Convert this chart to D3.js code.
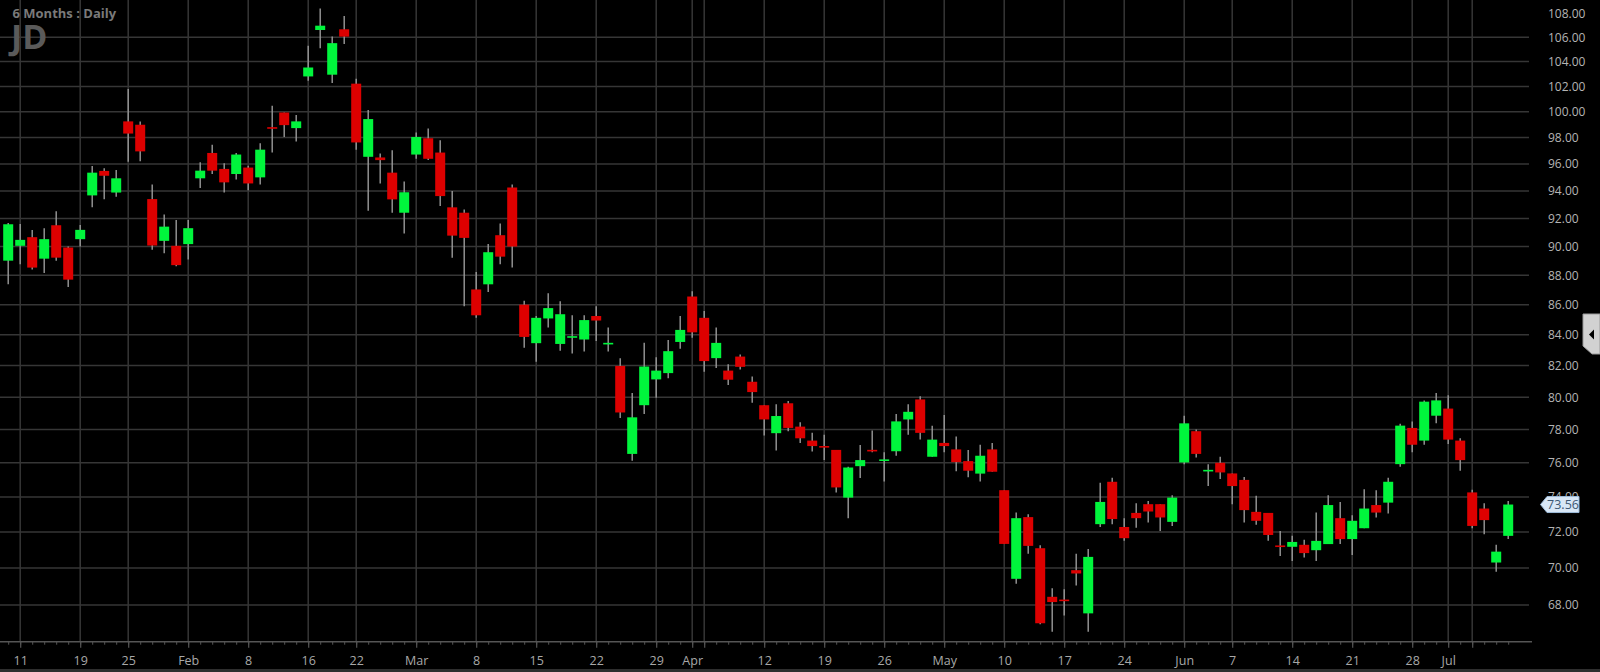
<!DOCTYPE html>
<html><head><meta charset="utf-8">
<script src="https://cdn.jsdelivr.net/npm/d3@7"></script>
<style>
html,body{margin:0;padding:0;background:#000;overflow:hidden;}
svg{display:block;}
</style></head><body>
<svg id="chart" width="1600" height="672"></svg>
<script>
const dates = [
"2021-01-08","2021-01-11","2021-01-12","2021-01-13","2021-01-14","2021-01-15","2021-01-19","2021-01-20","2021-01-21","2021-01-22",
"2021-01-25","2021-01-26","2021-01-27","2021-01-28","2021-01-29","2021-02-01","2021-02-02","2021-02-03","2021-02-04","2021-02-05",
"2021-02-08","2021-02-09","2021-02-10","2021-02-11","2021-02-12","2021-02-16","2021-02-17","2021-02-18","2021-02-19","2021-02-22",
"2021-02-23","2021-02-24","2021-02-25","2021-02-26","2021-03-01","2021-03-02","2021-03-03","2021-03-04","2021-03-05","2021-03-08",
"2021-03-09","2021-03-10","2021-03-11","2021-03-12","2021-03-15","2021-03-16","2021-03-17","2021-03-18","2021-03-19","2021-03-22",
"2021-03-23","2021-03-24","2021-03-25","2021-03-26","2021-03-29","2021-03-30","2021-03-31","2021-04-01","2021-04-05","2021-04-06",
"2021-04-07","2021-04-08","2021-04-09","2021-04-12","2021-04-13","2021-04-14","2021-04-15","2021-04-16","2021-04-19","2021-04-20",
"2021-04-21","2021-04-22","2021-04-23","2021-04-26","2021-04-27","2021-04-28","2021-04-29","2021-04-30","2021-05-03","2021-05-04",
"2021-05-05","2021-05-06","2021-05-07","2021-05-10","2021-05-11","2021-05-12","2021-05-13","2021-05-14","2021-05-17","2021-05-18",
"2021-05-19","2021-05-20","2021-05-21","2021-05-24","2021-05-25","2021-05-26","2021-05-27","2021-05-28","2021-06-01","2021-06-02",
"2021-06-03","2021-06-04","2021-06-07","2021-06-08","2021-06-09","2021-06-10","2021-06-11","2021-06-14","2021-06-15","2021-06-16",
"2021-06-17","2021-06-18","2021-06-21","2021-06-22","2021-06-23","2021-06-24","2021-06-25","2021-06-28","2021-06-29","2021-06-30",
"2021-07-01","2021-07-02","2021-07-06","2021-07-07","2021-07-08","2021-07-09"];

const open = [
89.01,90.05,90.66,89.15,91.51,89.93,90.52,93.67,95.48,93.88,
99.25,98.99,93.40,90.40,90.05,90.17,94.93,96.83,95.63,95.25,
95.73,95.00,98.78,99.94,98.73,102.80,106.60,102.94,106.66,102.22,
96.54,96.49,95.35,92.41,96.71,97.95,96.86,92.80,92.41,87.03,
87.38,90.80,94.25,86.00,83.45,85.08,83.40,83.84,83.69,85.24,
83.41,81.98,76.53,79.50,81.12,81.52,83.53,86.55,85.12,82.48,
81.68,82.58,80.97,79.50,77.78,79.62,78.18,77.33,76.98,76.77,
73.96,75.80,76.75,76.14,76.69,78.62,79.86,76.36,77.19,76.80,
76.10,75.36,76.80,74.39,69.41,72.84,71.09,68.44,68.27,69.88,
67.56,72.44,74.88,72.28,73.08,73.58,73.58,72.57,76.02,77.90,
75.52,76.00,75.37,74.99,73.14,73.08,71.22,71.17,71.28,70.98,
71.32,72.78,71.60,72.21,73.53,73.67,75.92,78.10,77.33,78.85,
79.29,77.33,74.26,73.33,70.30,71.78];

const high = [
91.67,91.60,91.17,91.30,92.51,90.00,91.53,95.85,95.68,95.55,
101.79,99.25,94.48,92.29,91.88,91.88,96.12,97.46,96.05,96.83,
95.87,97.56,100.47,99.94,99.75,105.29,108.40,106.05,107.77,102.61,
100.14,96.78,97.03,94.70,98.39,98.70,97.80,94.00,92.65,88.23,
90.17,91.63,94.48,86.27,85.24,86.78,86.23,85.29,85.29,85.89,
84.48,82.47,80.26,83.47,82.53,83.65,85.24,86.90,85.58,84.48,
82.09,82.71,81.31,79.50,79.56,79.76,78.44,77.80,77.68,76.77,
75.76,77.06,77.94,76.63,78.95,79.56,80.06,78.24,78.90,77.58,
76.77,77.08,77.19,74.39,73.10,73.01,71.26,68.90,68.85,70.79,
71.04,74.82,75.12,72.78,73.64,73.77,73.58,74.10,78.85,78.00,
75.92,76.36,75.37,75.16,74.06,73.08,72.06,71.78,71.56,73.10,
74.10,73.71,72.95,74.44,74.39,75.12,78.35,78.50,79.80,80.26,
80.12,77.47,74.41,73.64,71.28,73.77];

const low = [
87.38,88.76,88.40,88.16,89.01,87.19,90.00,92.80,93.38,93.57,
96.17,96.20,89.77,89.53,88.62,89.10,94.22,95.25,93.88,94.85,
94.05,94.48,96.86,98.05,97.70,102.46,105.10,102.27,105.45,97.08,
92.55,94.55,92.41,90.92,96.39,96.29,92.90,89.22,85.89,85.13,
86.85,88.76,88.53,83.15,82.25,84.48,82.95,82.78,82.91,83.60,
82.91,78.71,76.12,78.95,79.96,81.20,83.09,83.80,81.61,81.84,
80.76,81.75,79.66,77.64,76.73,77.90,77.19,76.67,76.16,74.26,
72.78,75.10,76.63,74.90,76.42,77.68,77.39,76.36,76.63,75.50,
75.14,74.90,75.47,71.33,69.14,70.79,66.99,66.60,67.45,69.05,
66.60,72.28,72.44,71.50,72.24,72.53,72.06,72.34,75.92,76.32,
74.63,75.04,73.58,72.53,72.40,71.50,70.66,70.39,70.57,70.39,
71.32,71.32,70.71,72.21,72.82,73.04,75.77,76.63,77.08,78.38,
77.13,75.53,72.21,71.87,69.80,71.60];

const close = [
91.58,90.47,88.53,90.52,89.22,87.70,91.18,95.35,95.12,94.93,
98.31,96.95,90.07,91.41,88.70,91.30,95.50,95.50,94.63,96.71,
94.55,97.08,98.70,98.96,99.25,103.52,106.96,105.51,106.05,97.63,
99.43,96.29,93.38,93.90,98.05,96.39,93.62,90.77,90.61,85.29,
89.60,89.29,90.00,83.86,85.12,85.77,85.36,83.87,84.97,84.94,
83.43,79.05,78.75,81.94,81.68,82.93,84.32,84.16,82.29,83.47,
81.10,81.92,80.32,78.62,78.83,78.10,77.47,77.00,76.93,74.55,
75.72,76.16,76.70,76.17,78.50,79.09,77.80,77.39,77.00,76.04,
75.53,76.42,75.47,71.33,72.78,71.22,67.04,68.16,68.23,69.70,
70.61,73.71,72.73,71.65,72.78,73.16,72.82,73.96,78.38,76.53,
75.55,75.43,74.63,73.24,72.63,71.83,71.18,71.44,70.82,71.50,
73.53,71.60,72.63,73.33,73.10,74.88,78.24,77.08,79.72,79.80,
77.39,76.16,72.34,72.67,70.90,73.56];

const tickDates = ["2021-01-11","2021-01-19","2021-01-25","2021-02-01","2021-02-08","2021-02-16","2021-02-22",
"2021-03-01","2021-03-08","2021-03-15","2021-03-22","2021-03-29","2021-04-01","2021-04-05","2021-04-12","2021-04-19",
"2021-04-26","2021-05-03","2021-05-10","2021-05-17","2021-05-24","2021-06-01","2021-06-07","2021-06-14","2021-06-21",
"2021-06-28","2021-07-01","2021-07-06"];
const tickLabels = ["11","19","25","Feb","8","16","22","Mar","8","15","22","29","Apr","","12","19","26","May","10","17","24","Jun","7","14","21","28","Jul",""];
const priceTicks = [68,70,72,74,76,78,80,82,84,86,88,90,92,94,96,98,100,102,104,106,108];
const gridPrices = [68,70,72,74,76,78,80,82,84,86,88,90,92,94,96,98,100,102,104,106];
const lastPrice = 73.56;
const symbol = "JD";
const period = "6 Months : Daily";

const W = 1600, H = 672;
const plotBottom = 641.7, gridRight = 1529;
const svg = d3.select("#chart");
svg.append("rect").attr("width", W).attr("height", H).attr("fill", "#000");

const x = d3.scalePoint().domain(dates).range([8.2, 1508.2]);
const y = d3.scaleLog().domain([66.08, 109.13]).range([plotBottom, 0]);

const gridColor = "#363636";
// horizontal grid
svg.append("g").selectAll("line").data(gridPrices).join("line")
  .attr("x1", 0).attr("x2", gridRight)
  .attr("y1", d => y(d)).attr("y2", d => y(d))
  .attr("stroke", gridColor).attr("stroke-width", 1.5);
// vertical grid
svg.append("g").selectAll("line").data(tickDates).join("line")
  .attr("x1", d => x(d)).attr("x2", d => x(d))
  .attr("y1", 0).attr("y2", plotBottom)
  .attr("stroke", gridColor).attr("stroke-width", 1.5);

// x axis: minor ticks
const minorAxis = d3.axisBottom(x).tickValues(dates).tickSize(3).tickFormat("");
const gMinor = svg.append("g").attr("transform", `translate(0,${plotBottom})`).call(minorAxis);
gMinor.select(".domain").remove();
gMinor.selectAll(".tick line").attr("stroke", "#555").attr("stroke-width", 1);

const xAxis = d3.axisBottom(x).tickValues(tickDates).tickSize(6).tickPadding(8)
  .tickFormat((d, i) => tickLabels[i]);
const gx = svg.append("g").attr("transform", `translate(0,${plotBottom})`).call(xAxis);
gx.select(".domain").remove();
gx.selectAll(".tick line").attr("stroke", "#555").attr("stroke-width", 1.2);
gx.selectAll(".tick text").attr("fill", "#a8a8a8").attr("font-family", "'Open Sans', sans-serif")
  .attr("font-size", 12.5).attr("dy", "0.71em");
svg.append("line").attr("x1", 0).attr("x2", 1532).attr("y1", plotBottom).attr("y2", plotBottom)
  .attr("stroke", "#555").attr("stroke-width", 1.5);

// bottom strip
svg.append("rect").attr("x", 0).attr("y", 669).attr("width", W).attr("height", 3).attr("fill", "#2e2e2e");

// candles
const idx = d3.range(dates.length);
const up = "#00f53c", down = "#dd0000", wickColor = "#9a9a9a";
const gc = svg.append("g");
gc.selectAll("line.wick").data(idx).join("line").attr("class", "wick")
  .attr("x1", i => x(dates[i])).attr("x2", i => x(dates[i]))
  .attr("y1", i => y(high[i])).attr("y2", i => y(low[i]))
  .attr("stroke", wickColor).attr("stroke-width", 1.4);
const bw = 10;
gc.selectAll("rect.body").data(idx).join("rect").attr("class", "body")
  .attr("x", i => x(dates[i]) - bw / 2).attr("width", bw)
  .attr("y", i => {
    const t = y(Math.max(open[i], close[i])), b = y(Math.min(open[i], close[i]));
    return (b - t) < 1.6 ? (t + b) / 2 - 0.8 : t;
  })
  .attr("height", i => Math.max(1.6, y(Math.min(open[i], close[i])) - y(Math.max(open[i], close[i]))))
  .attr("fill", i => close[i] >= open[i] ? up : down);

// y axis labels
const yAxis = d3.axisRight(y).tickValues(priceTicks).tickSize(0).tickPadding(0).tickFormat(d3.format(".2f"));
const gy = svg.append("g").attr("transform", "translate(1548,0)").call(yAxis);
gy.select(".domain").remove();
gy.selectAll(".tick text").attr("fill", "#b4b4b4").attr("font-family", "'Open Sans', sans-serif")
  .attr("font-size", 12).attr("text-anchor", "start");

// last price tag
const ly = y(lastPrice);
svg.append("path")
  .attr("d", `M1540.5,${ly} L1547,${ly - 8} L1579,${ly - 8} L1579,${ly + 8} L1547,${ly + 8} Z`)
  .attr("fill", "#d8e7f6").attr("stroke", "#9dbbd9").attr("stroke-width", 1);
svg.append("text").attr("x", 1563).attr("y", ly).attr("dy", "0.36em").attr("text-anchor", "middle")
  .attr("fill", "#3d5873").attr("font-family", "'Open Sans', sans-serif").attr("font-size", 12.5)
  .text(d3.format(".2f")(lastPrice));

// right scroll tab
svg.append("path").attr("d", "M1583,314 L1600,314 L1600,354 L1592,354 L1583,346 Z")
  .attr("fill", "#d2d2d2").attr("stroke", "#9a9a9a").attr("stroke-width", 1);
svg.append("path").attr("d", "M1594,329.5 L1594,339.5 L1589,334.5 Z").attr("fill", "#000");

// titles
svg.append("text").attr("x", 12.5).attr("y", 18.3).attr("fill", "#7a7a7a")
  .attr("font-family", "'Open Sans', sans-serif").attr("font-weight", "bold").attr("font-size", 13)
  .text(period);
svg.append("text").attr("x", 11).attr("y", 49).attr("fill", "#5a5a5a")
  .attr("font-family", "'Open Sans', sans-serif").attr("font-weight", "bold").attr("font-size", 34)
  .text(symbol);
</script>
</body></html>
